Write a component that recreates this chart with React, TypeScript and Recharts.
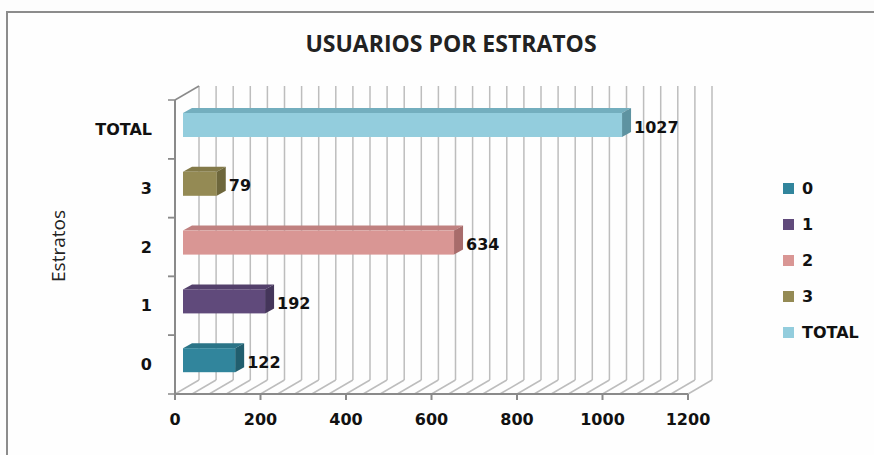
import React from 'react';
import { BarChart, Bar, XAxis, YAxis, CartesianGrid, Legend, Cell, LabelList } from 'recharts';

const categories = ['0', '1', '2', '3', 'TOTAL'];
const usuarios = [122, 192, 634, 79, 1027];
const labelTicks = [0, 200, 400, 600, 800, 1000, 1200];
const gridTicks = [0, 40, 80, 120, 160, 200, 240, 280, 320, 360, 400, 440, 480, 520, 560, 600, 640, 680, 720, 760, 800, 840, 880, 920, 960, 1000, 1040, 1080, 1120, 1160, 1200];
const frontColors = ['#31859C', '#604A7B', '#D99694', '#948A54', '#93CDDD'];
const topColors = ['#2B7487', '#53406B', '#C08180', '#837A49', '#73AEBE'];
const sideColors = ['#215E6E', '#44355A', '#A86C6B', '#6E673C', '#5E93A1'];

const data = categories.map((c, i) => ({ estrato: c, usuarios: usuarios[i] }));

const WALL_DX = 24;
const WALL_DY = -14;
const BAR_OX = 8;
const BAR_OY = -4;
const BAR_DX = 9;
const BAR_DY = -5;
const X_TICK_MARGIN = 20;
const Y_TICK_MARGIN = 23;
const TICK_LEN = 6;

const GRID_COLOR = '#BDBDBD';
const AXIS_COLOR = '#8A8A8A';
const TICK_FONT = { fontFamily: 'DejaVu Sans', fontWeight: 700, fontSize: 16, fill: '#111' };

const Box3D = (props: any) => {
  const { x, y, width, height, index } = props;
  if (width == null || height == null) return null;
  const X = x + BAR_OX;
  const Y = y + BAR_OY;
  const W = width;
  const H = height;
  const top = `${X},${Y} ${X + BAR_DX},${Y + BAR_DY} ${X + W + BAR_DX},${Y + BAR_DY} ${X + W},${Y}`;
  const side = `${X + W},${Y} ${X + W + BAR_DX},${Y + BAR_DY} ${X + W + BAR_DX},${Y + H + BAR_DY} ${X + W},${Y + H}`;
  return (
    <g>
      <polygon points={top} fill={topColors[index]} />
      <polygon points={side} fill={sideColors[index]} />
      <rect x={X} y={Y} width={W} height={H} fill={frontColors[index]} />
    </g>
  );
};

const renderValueLabel = (props: any) => {
  const { x, y, width, height, value } = props;
  return (
    <text x={x + width + 20} y={y + height / 2 - 2} dominantBaseline="central" textAnchor="start" style={TICK_FONT as any}>
      {value}
    </text>
  );
};

const renderVerticalGrid = (props: any) => {
  const { x1, y1, y2, index } = props;
  const x = x1;
  return (
    <g key={`vg-${index}`}>
      <line x1={x} y1={y2} x2={x + WALL_DX} y2={y2 + WALL_DY} stroke={GRID_COLOR} strokeWidth={1.5} />
      <line x1={x + WALL_DX} y1={y1 + WALL_DY} x2={x + WALL_DX} y2={y2 + WALL_DY} stroke={GRID_COLOR} strokeWidth={1.5} />
      {index === 0 ? (
        <line x1={x} y1={y1} x2={x + WALL_DX} y2={y1 + WALL_DY} stroke={AXIS_COLOR} strokeWidth={1.5} />
      ) : null}
    </g>
  );
};

const XTick = (props: any) => {
  const { x, y, payload } = props;
  const v = payload.value;
  if (!labelTicks.includes(v)) return null;
  const axisY = y - X_TICK_MARGIN;
  return (
    <g>
      <line x1={x} y1={axisY} x2={x} y2={axisY + TICK_LEN} stroke={AXIS_COLOR} strokeWidth={2} />
      <text x={x} y={y} dy="0.71em" textAnchor="middle" style={TICK_FONT as any}>
        {v}
      </text>
    </g>
  );
};

const YTick = (props: any) => {
  const { x, y, payload, height, visibleTicksCount } = props;
  const axisX = x + Y_TICK_MARGIN;
  const band = height && visibleTicksCount ? height / visibleTicksCount : 0;
  return (
    <g>
      {band ? (
        <>
          <line x1={axisX - 7} y1={y - band / 2} x2={axisX} y2={y - band / 2} stroke={AXIS_COLOR} strokeWidth={1.5} />
          <line x1={axisX - 7} y1={y + band / 2} x2={axisX} y2={y + band / 2} stroke={AXIS_COLOR} strokeWidth={1.5} />
        </>
      ) : null}
      <text x={x} y={y} dominantBaseline="central" textAnchor="end" style={TICK_FONT as any}>
        {payload.value}
      </text>
    </g>
  );
};

const renderLegend = () => (
  <div style={{ display: 'flex', flexDirection: 'column' }}>
    {categories.map((c, i) => (
      <div key={c} style={{ display: 'flex', alignItems: 'center', height: 36 }}>
        <span style={{ display: 'inline-block', width: 11, height: 11, background: frontColors[i], marginRight: 8 }} />
        <span style={{ fontFamily: 'DejaVu Sans', fontWeight: 700, fontSize: 16, color: '#111' }}>{c}</span>
      </div>
    ))}
  </div>
);

export default function App() {
  return (
    <div style={{ position: 'absolute', left: 0, top: 0, width: 874, height: 455, background: '#FDFDFD', overflow: 'hidden' }}>
      <style>{'html,body{margin:0;overflow:hidden;}'}</style>
      <div style={{ position: 'absolute', left: 6, top: 11, width: 1000, height: 600, borderLeft: '2px solid #8C8C8C', borderTop: '2px solid #8C8C8C', background: '#FEFEFE' }} />
      <div style={{ position: 'absolute', left: 0, top: 0 }}>
        <BarChart
          width={874}
          height={455}
          data={data}
          layout="vertical"
          margin={{ top: 100, right: 96, bottom: 21, left: 55 }}
        >
          <text x={451} y={43} textAnchor="middle" dominantBaseline="central" style={{ fontFamily: 'Open Sans', fontWeight: 700, fontSize: 23, fill: '#222' }}>
            USUARIOS POR ESTRATOS
          </text>
          <text x={58} y={246} textAnchor="middle" dominantBaseline="central" transform="rotate(-90 58 246)" style={{ fontFamily: 'Open Sans', fontSize: 19, fill: '#222' }}>
            Estratos
          </text>
          <CartesianGrid vertical={renderVerticalGrid} horizontal={false} />
          <XAxis
            type="number"
            domain={[0, 1200]}
            ticks={gridTicks}
            interval={0}
            height={40}
            tickSize={0}
            tickMargin={X_TICK_MARGIN}
            axisLine={{ stroke: AXIS_COLOR, strokeWidth: 2 }}
            tickLine={false}
            tick={<XTick />}
          />
          <YAxis
            type="category"
            dataKey="estrato"
            reversed
            width={120}
            tickSize={0}
            tickMargin={Y_TICK_MARGIN}
            axisLine={{ stroke: AXIS_COLOR, strokeWidth: 2 }}
            tickLine={false}
            tick={<YTick />}
          />
          <Legend
            layout="vertical"
            align="right"
            verticalAlign="middle"
            width={90}
            content={renderLegend}
            wrapperStyle={{ left: 783, top: 170, width: 90 }}
          />
          <Bar dataKey="usuarios" barSize={24} shape={<Box3D />} isAnimationActive={false}>
            {data.map((d, i) => (
              <Cell key={d.estrato} fill={frontColors[i]} />
            ))}
            <LabelList dataKey="usuarios" content={renderValueLabel} />
          </Bar>
        </BarChart>
      </div>
    </div>
  );
}
